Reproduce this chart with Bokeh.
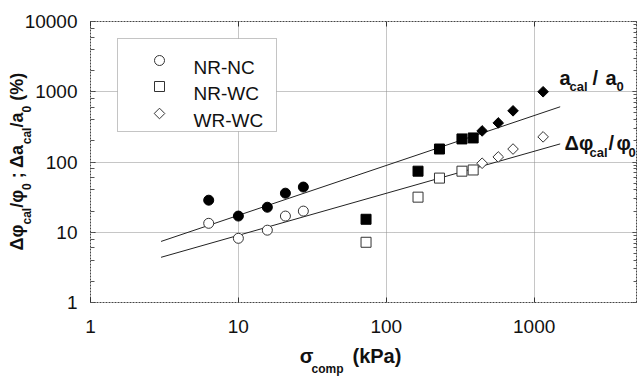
import math
from bokeh.plotting import figure
from bokeh.models import (Range1d, LogAxis, LogTicker, FixedTicker, Label,
                          CustomJSTickFormatter)
from bokeh.embed import file_html
from bokeh.resources import INLINE

# ---------------- data ----------------
sigma_nrnc = [6.3, 10, 15.7, 20.8, 27.5]
a_nrnc = [28.6, 17, 22.7, 36, 44]
phi_nrnc = [13.4, 8.2, 10.7, 17, 20]

sigma_nrwc = [73, 164, 229, 325, 387]
a_nrwc = [15.3, 74, 153, 213, 220]
phi_nrwc = [7.2, 31.6, 59, 74, 77]

sigma_wrwc = [445, 572, 720, 1150]
a_wrwc = [277, 360, 535, 1000]
phi_wrwc = [96, 118, 153, 228]

sigma_fit = [3, 1500]
a_fit = [7.4, 611]
phi_fit = [4.4, 181]

series_labels = ["NR-NC", "NR-WC", "WR-WC"]
series_markers = ["circle", "square", "diamond"]

# ---------------- layout ----------------
W, H = 637, 378
FL, FR, FT, FB = 90, 637, 21, 302
XMIN, XMAX, YMIN, YMAX = 1, 5000, 1, 10000
FONT = "Liberation Sans"
INK = "#111111"

p = figure(width=W, height=H, x_axis_type="log", y_axis_type="log",
           x_range=Range1d(XMIN, XMAX), y_range=Range1d(YMIN, YMAX),
           output_backend="svg", toolbar_location=None,
           min_border_left=FL, min_border_right=W - FR, min_border_top=FT,
           min_border_bottom=H - FB,
           background_fill_color="white", border_fill_color="white")
p.outline_line_color = "#444444"
p.outline_line_dash = "2 1"


def px2data(px, py):
    lx = math.log10(XMIN) + (px - FL) / (FR - FL) * (math.log10(XMAX) - math.log10(XMIN))
    ly = math.log10(YMIN) + (FB - py) / (FB - FT) * (math.log10(YMAX) - math.log10(YMIN))
    return 10 ** lx, 10 ** ly


# ---------------- axes ----------------
xa = p.xaxis[0]
ya = p.yaxis[0]
xa.ticker = LogTicker(desired_num_ticks=4, num_minor_ticks=0)
xa.ticker.mantissas = [1]
ya.ticker = LogTicker(desired_num_ticks=5)
ya.ticker.mantissas = [1]
for ax in (xa, ya):
    ax.axis_line_color = None
    ax.major_tick_out = 0
    ax.major_tick_in = 5
    ax.minor_tick_out = 0
    ax.minor_tick_in = 4
    ax.major_tick_line_color = "#333333"
    ax.minor_tick_line_color = "#555555"
    ax.major_label_text_font = FONT
    ax.major_label_text_font_size = "19px"
    ax.major_label_text_color = INK
    ax.formatter = CustomJSTickFormatter(code="return String(Math.round(tick));")
xa.major_label_standoff = 17
ya.major_label_standoff = 13
xa.minor_tick_in = 0

for loc in ("right", "above"):
    ax = LogAxis(ticker=LogTicker(num_minor_ticks=(10 if loc == "right" else 0)))
    ax.ticker.mantissas = [1]
    ax.axis_line_color = None
    ax.major_tick_out = 0
    ax.major_tick_in = 5
    ax.minor_tick_out = 0
    ax.minor_tick_in = 4
    ax.major_tick_line_color = "#333333"
    ax.minor_tick_line_color = "#555555"
    ax.major_label_text_font_size = "1px"
    ax.major_label_text_color = None
    ax.major_label_standoff = 0
    p.add_layout(ax, loc)

p.xgrid.ticker = xa.ticker
p.ygrid.ticker = ya.ticker
for g in (p.xgrid, p.ygrid):
    g.grid_line_color = "#8c8c8c"
    g.grid_line_dash = "1 1"
    g.grid_line_width = 1

# ---------------- axis titles (built from label-only axes, so they sit outside the frame) ----
BOLD_W = {"Δ": 0.722, "φ": 0.72, "σ": 0.61, "a": 0.556, "c": 0.556, "l": 0.278, "/": 0.278,
          "0": 0.556, ";": 0.333, " ": 0.278, "(": 0.333, "%": 0.889, ")": 0.333,
          "o": 0.611, "m": 0.889, "p": 0.611, "k": 0.556, "P": 0.667}


def text_w(txt, size):
    return sum(BOLD_W.get(ch, 0.6) for ch in txt) * size


def title_axis(loc, texts, ticks, size, standoff):
    ax = LogAxis(ticker=FixedTicker(ticks=ticks, minor_ticks=[]),
                 formatter=CustomJSTickFormatter(args=dict(labels=texts),
                                                 code="return labels[index];"))
    ax.axis_line_color = None
    ax.major_tick_line_color = None
    ax.minor_tick_line_color = None
    ax.major_tick_out = 0
    ax.major_tick_in = 0
    ax.minor_tick_out = 0
    ax.minor_tick_in = 0
    ax.major_label_text_font = FONT
    ax.major_label_text_font_size = f"{size}px"
    ax.major_label_text_font_style = "bold"
    ax.major_label_text_color = INK
    ax.major_label_standoff = standoff
    if loc == "left":
        ax.major_label_orientation = "vertical"
    p.add_layout(ax, loc)


# x title: σ_comp (kPa)
XT_MAIN, XT_SUB = 20, 12
x_main = [("σ", 300), ("(kPa)", 352)]
x_sub = [("comp", 311)]
title_axis("below", [t for t, _ in x_main],
           [px2data(x0 + text_w(t, XT_MAIN) / 2, FB)[0] for t, x0 in x_main], XT_MAIN, 9)
title_axis("below", [t for t, _ in x_sub],
           [px2data(x0 + text_w(t, XT_SUB) / 2, FB)[0] for t, x0 in x_sub], XT_SUB, -8)

# y title: Δφcal/φ0 ; Δacal/a0 (%)   (reads bottom-to-top)
YT_MAIN, YT_SUB = 18, 12
segs = [("Δφ", False), ("cal", True), ("/φ", False), ("0", True),
        (" ; Δa", False), ("cal", True), ("/a", False), ("0", True), (" (%)", False)]
ypos = 250.0
y_main_t, y_main_v, y_sub_t, y_sub_v = [], [], [], []
for txt, sub in segs:
    size = YT_SUB if sub else YT_MAIN
    w = text_w(txt, size)
    centre = px2data(FL, ypos - w / 2)[1]
    if sub:
        y_sub_t.append(txt)
        y_sub_v.append(centre)
    else:
        y_main_t.append(txt.strip())
        y_main_v.append(px2data(FL, ypos - w / 2 - (text_w(txt, size) - text_w(txt.strip(), size)) / 2
                                + (text_w(txt.rstrip(), size) - text_w(txt.strip(), size)) * 0)[1])
    ypos -= w
# recompute main centres so stripped leading spaces keep their place
ypos = 250.0
y_main_v = []
for txt, sub in segs:
    size = YT_SUB if sub else YT_MAIN
    w = text_w(txt, size)
    if not sub:
        lead = len(txt) - len(txt.lstrip())
        start = ypos - text_w(txt[:lead], size)
        core = txt.strip()
        y_main_v.append(px2data(FL, start - text_w(core, size) / 2)[1])
    ypos -= w
title_axis("left", y_sub_t, y_sub_v, YT_SUB, -13)
title_axis("left", y_main_t, y_main_v, YT_MAIN, -10)

# ---------------- glyphs ----------------
p.line(sigma_fit, a_fit, line_color="#222222", line_width=1)
p.line(sigma_fit, phi_fit, line_color="#222222", line_width=1)

MS = 10
DS = 7.5
p.scatter(sigma_nrnc, a_nrnc, marker="circle", size=MS, fill_color="black", line_color="black")
p.scatter(sigma_nrnc, phi_nrnc, marker="circle", size=MS, fill_color="white", line_color="#333333")
p.scatter(sigma_nrwc, a_nrwc, marker="square", size=MS, fill_color="black", line_color="black")
p.scatter(sigma_nrwc, phi_nrwc, marker="square", size=MS, fill_color="white", line_color="#333333")
p.scatter(sigma_wrwc, a_wrwc, marker="square", angle=math.pi / 4, size=DS, fill_color="black", line_color="black")
p.scatter(sigma_wrwc, phi_wrwc, marker="square", angle=math.pi / 4, size=DS, fill_color="white", line_color="#333333")

# ---------------- legend (box, symbols, texts) ----------------
bl, bt = px2data(117, 38)
br, bb = px2data(276, 131)
p.quad(left=[bl], right=[br], top=[bt], bottom=[bb], fill_color="white",
       line_color="#888888", line_dash="1 1", line_width=1)
LEG_X, LEG_TX = 159, 193
LEG_ROWS = [60, 86, 113]
LEG_BASE = [67, 93, 120]
for mk, row, base, lab in zip(series_markers, LEG_ROWS, LEG_BASE, series_labels):
    lx, ly = px2data(LEG_X, row)
    if mk == "diamond":
        p.scatter([lx], [ly], marker="square", angle=math.pi / 4, size=DS, fill_color="white",
                  line_color="#333333")
    else:
        p.scatter([lx], [ly], marker=mk, size=MS, fill_color="white", line_color="#333333")
    tx, ty = px2data(LEG_TX, base)
    p.add_layout(Label(x=tx, y=ty, text=lab, text_font=FONT, text_font_size="19px",
                       text_color=INK, text_align="left", text_baseline="alphabetic"))


# ---------------- curve annotations ----------------
def put(text, px, py, size):
    x, y = px2data(px, py)
    p.add_layout(Label(x=x, y=y, text=text, text_font=FONT, text_font_size=f"{size}px",
                       text_font_style="bold", text_color=INK,
                       text_align="left", text_baseline="alphabetic"))


put("a", 559, 77, 20)
put("cal", 569, 86, 13)
put("/", 592, 77, 20)
put("a", 605, 77, 20)
put("0", 616, 86, 13)

put("Δφ", 564, 142, 20)
put("cal", 589, 152, 13)
put("/", 608, 142, 20)
put("φ", 616, 142, 20)
put("0", 628, 152, 13)

open("out.html", "w").write(file_html(p, INLINE))
